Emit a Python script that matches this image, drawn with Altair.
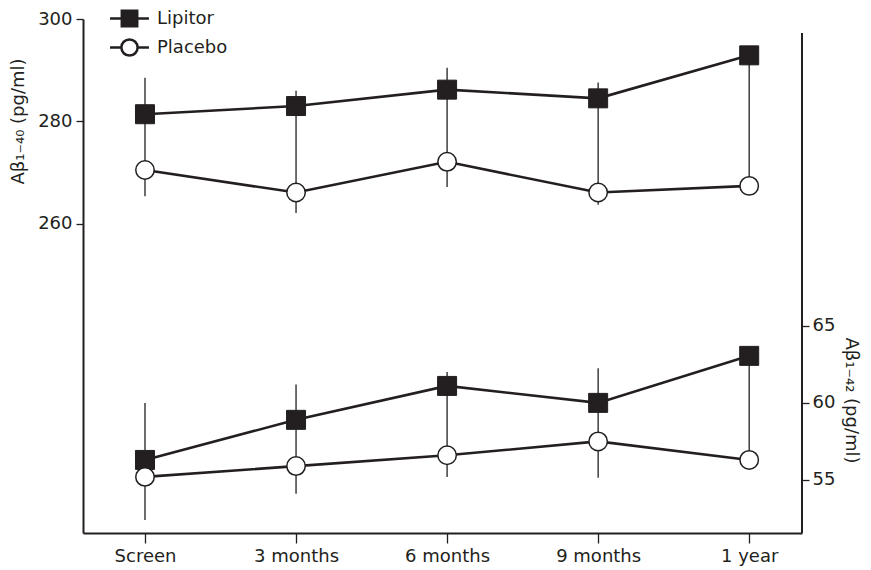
import altair as alt
import pandas as pd

# ---- data ----
times = ["Screen", "3 months", "6 months", "9 months", "1 year"]
series_names = ["Lipitor", "Placebo"]

# A-beta 1-40 (left axis)
lipitor_40 = [281.4, 283.0, 286.2, 284.5, 292.9]
placebo_40 = [270.5, 266.1, 272.1, 266.1, 267.4]
err_hi_40 = [288.5, 286.0, 290.5, 287.6, 292.9]
err_lo_40 = [265.4, 262.1, 267.2, 263.7, 267.4]

# A-beta 1-42 (right axis)
lipitor_42 = [56.3, 58.9, 61.1, 60.0, 63.05]
placebo_42 = [55.2, 55.9, 56.6, 57.5, 56.3]
err_hi_42 = [60.0, 61.2, 62.0, 62.25, 63.05]
err_lo_42 = [52.4, 54.1, 55.2, 55.15, 56.3]

left_ticks = [260, 280, 300]
right_ticks = [55, 60, 65]

INK = "#231f20"
FONT = "DejaVu Sans"
W, H = 719, 514


def long_df(lip, pla):
    rows = []
    for s, vals in zip(series_names, (lip, pla)):
        for t, v in zip(times, vals):
            rows.append({"time": t, "series": s, "value": v})
    return pd.DataFrame(rows)


top = long_df(lipitor_40, placebo_40)
bot = long_df(lipitor_42, placebo_42)
top_err = pd.DataFrame({"time": times, "lo": err_lo_40, "hi": err_hi_40})
bot_err = pd.DataFrame({"time": times, "lo": err_lo_42, "hi": err_hi_42})

x_enc = alt.X(
    "time:N",
    sort=times,
    scale=alt.Scale(type="point", padding=0.38, align=0.54),
    axis=alt.Axis(title=None, labelAngle=0, tickSize=10, labelPadding=4),
)

left_scale = alt.Scale(domain=[199.6, 300], nice=False, zero=False)
right_scale = alt.Scale(domain=[51.56, 84.9], nice=False, zero=False)

left_axis = alt.Axis(
    orient="left", values=left_ticks, tickSize=7, labelPadding=4,
    title="Aβ₁₋₄₀ (pg/ml)", titleAngle=270, titleX=-65, titleY=102,
    titleAlign="center", titleBaseline="middle",
)
right_axis = alt.Axis(
    orient="right", values=right_ticks, tickSize=7, labelPadding=3, domain=False,
    title="Aβ₁₋₄₂ (pg/ml)", titleAngle=90, titleX=48, titleY=381,
    titleAlign="center", titleBaseline="middle",
)

# legend glyphs: a line segment with the marker on it
LIP_PATH = "M-1.39,0H1.39M-0.55,-0.55H0.55V0.55H-0.55Z"
PLA_PATH = ("M-1.39,0H-0.58M0.58,0H1.39M-0.58,0A0.58,0.58,0,1,0,0.58,0"
            "A0.58,0.58,0,1,0,-0.58,0Z")

legend = alt.Legend(
    title=None, orient="none", legendX=31, legendY=-16, padding=0,
    symbolSize=784, rowPadding=0, labelOffset=12, labelFontSize=18,
    labelFont=FONT, labelColor=INK, labelLimit=200,
    symbolStrokeColor=INK, symbolStrokeWidth=2.5, symbolOpacity=1,
)


def panel(df, err, scale, axis):
    rules = alt.Chart(err).mark_rule(color=INK, strokeWidth=1.3).encode(
        x=x_enc,
        y=alt.Y("lo:Q", scale=scale, axis=axis),
        y2="hi:Q",
    )
    lines = alt.Chart(df).mark_line(color=INK, strokeWidth=2.6).encode(
        x=x_enc,
        y=alt.Y("value:Q", scale=scale, axis=axis),
        detail="series:N",
    )
    lip = alt.Chart(df).transform_filter(alt.datum.series == "Lipitor").mark_point(
        shape="square", size=361, filled=True, color=INK, opacity=1, stroke=INK, strokeWidth=1
    ).encode(x=x_enc, y=alt.Y("value:Q", scale=scale, axis=axis))
    pla = alt.Chart(df).transform_filter(alt.datum.series == "Placebo").mark_point(
        shape="circle", size=340, fill="#ffffff", stroke=INK, strokeWidth=1.5, opacity=1
    ).encode(x=x_enc, y=alt.Y("value:Q", scale=scale, axis=axis))
    return [rules, lines, lip, pla]


legend_layer = alt.Chart(top).mark_point(opacity=0, color=INK, strokeWidth=2.5).encode(
    x=x_enc,
    y=alt.Y("value:Q", scale=left_scale, axis=left_axis),
    shape=alt.Shape("series:N", scale=alt.Scale(domain=series_names, range=[LIP_PATH, PLA_PATH]),
                    legend=legend),
    fill=alt.Fill("series:N", scale=alt.Scale(domain=series_names, range=[INK, "#ffffff"]),
                  legend=legend),
    stroke=alt.Stroke("series:N", scale=alt.Scale(domain=series_names, range=[INK, INK]),
                      legend=legend),
)

top_layer = alt.layer(*panel(top, top_err, left_scale, left_axis), legend_layer)

right_domain = alt.Chart(bot_err).mark_rule(color=INK, strokeWidth=2).encode(
    x=alt.value(W), y=alt.value(14), y2=alt.value(H)
)
bot_layer = alt.layer(*panel(bot, bot_err, right_scale, right_axis), right_domain)

chart = (
    alt.layer(top_layer, bot_layer)
    .resolve_scale(y="independent")
    .properties(
        width=W, height=H,
        autosize=alt.AutoSizeParams(type="none"),
        padding={"left": 75, "top": 11, "right": 61, "bottom": 36},
    )
    .configure_view(stroke=None)
    .configure_axis(
        grid=False, domainColor=INK, domainWidth=2, tickColor=INK, tickWidth=1.3,
        labelColor=INK, labelFont=FONT, labelFontSize=18,
        titleColor=INK, titleFont=FONT, titleFontSize=18, titleFontWeight="normal",
    )
)

chart.save("out.html", embed_options={"renderer": "svg", "actions": False})
